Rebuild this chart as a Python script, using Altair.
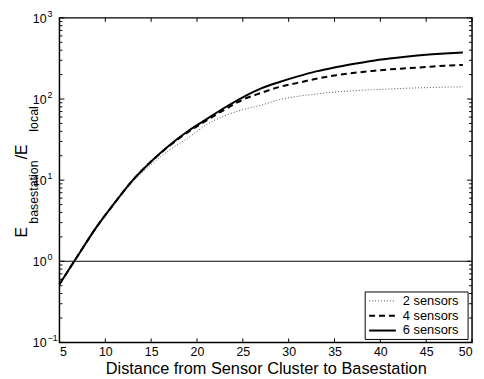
import altair as alt
import pandas as pd

# ---- data ----
distance = [5, 7, 9, 11, 13, 15, 17, 19, 21, 23, 25, 27, 29, 31, 33, 35, 37, 39, 41, 43, 45, 47, 49]
ratio_2 = [0.52, 1.17, 2.6, 5.15, 9.6, 15.5, 23.5, 33, 48, 62, 74, 84, 98, 108, 115, 122, 126, 130, 133, 136, 138, 140, 141]
ratio_4 = [0.52, 1.17, 2.6, 5.2, 10, 17, 26.5, 39, 54, 74, 98, 119, 141, 158, 178, 195, 209, 221, 232, 240, 248, 257, 263]
ratio_6 = [0.52, 1.17, 2.6, 5.2, 10, 17, 27, 40, 56, 78, 105, 135, 162, 190, 219, 245, 270, 295, 316, 335, 351, 363, 374]
series = ["2 sensors", "4 sensors", "6 sensors"]

x_ticks = [5, 10, 15, 20, 25, 30, 35, 40, 45, 50]
y_ticks = [0.1, 1, 10, 100, 1000]
y_exps = ["\u22121", "0", "1", "2", "3"]
y_minor = [m * d for d in [0.1, 1, 10, 100] for m in range(2, 10)]
ref_level = [1]

W, H = 417, 328

styles = {
    "2 sensors": dict(color="#555555", strokeWidth=1, strokeDash=[1, 2]),
    "4 sensors": dict(color="black", strokeWidth=2, strokeDash=[6, 4]),
    "6 sensors": dict(color="black", strokeWidth=2),
}

xs = alt.Scale(domain=[5, 50], nice=False, zero=False)
ys = alt.Scale(type="log", domain=[0.1, 1000], nice=False)

xaxis = alt.Axis(values=x_ticks, ticks=False, domain=False, grid=False,
                 labelFontSize=12.5, labelFont="Liberation Sans", labelColor="black",
                 labelPadding=3,
                 title="Distance from Sensor Cluster to Basestation",
                 titleFont="Liberation Sans", titleFontSize=16.5, titleFontWeight="normal",
                 titleColor="black", titlePadding=3)

layers = []

ref = alt.Chart(pd.DataFrame({"v": ref_level})).mark_rule(color="black", strokeWidth=1).encode(
    y=alt.Y("v:Q", scale=ys, axis=None), x=alt.value(0), x2=alt.value(W))
layers.append(ref)

for name, vals in zip(series, [ratio_2, ratio_4, ratio_6]):
    d = pd.DataFrame({"distance": distance, "ratio": vals})
    layers.append(alt.Chart(d).mark_line(interpolate="monotone", **styles[name]).encode(
        x=alt.X("distance:Q", scale=xs, axis=xaxis),
        y=alt.Y("ratio:Q", scale=ys, axis=None)))

xt = pd.DataFrame({"x": x_ticks})
layers.append(alt.Chart(xt).mark_rule(color="black", strokeWidth=1).encode(
    x=alt.X("x:Q", scale=xs, axis=xaxis), y=alt.value(H), y2=alt.value(H - 4)))
layers.append(alt.Chart(xt).mark_rule(color="black", strokeWidth=1).encode(
    x=alt.X("x:Q", scale=xs, axis=xaxis), y=alt.value(0), y2=alt.value(4)))

yt = pd.DataFrame({"y": y_ticks, "e": y_exps})
ym = pd.DataFrame({"y": y_minor})
for dfr, ln in [(yt, 5), (ym, 3)]:
    layers.append(alt.Chart(dfr).mark_rule(color="black", strokeWidth=1).encode(
        y=alt.Y("y:Q", scale=ys, axis=None), x=alt.value(0), x2=alt.value(ln)))
    layers.append(alt.Chart(dfr).mark_rule(color="black", strokeWidth=1).encode(
        y=alt.Y("y:Q", scale=ys, axis=None), x=alt.value(W), x2=alt.value(W - ln)))

layers.append(alt.Chart(yt).mark_text(align="right", baseline="middle", dy=1, fontSize=12.5,
                                      font="Liberation Sans", color="black").encode(
    y=alt.Y("y:Q", scale=ys, axis=None), x=alt.value(-13), text=alt.value("10")))
layers.append(alt.Chart(yt).mark_text(align="left", baseline="middle", dy=-4, fontSize=9,
                                      font="Liberation Sans", color="black").encode(
    y=alt.Y("y:Q", scale=ys, axis=None), x=alt.value(-12), text="e:N"))

# y-axis title with subscripts
for txt, xpos, ystart, size in [("E", -33, 222, 16), ("basestation", -22, 208, 12.5),
                                ("/E", -33, 143, 16), ("local", -22, 115, 12.5)]:
    layers.append(alt.Chart(pd.DataFrame({"t": [txt]})).mark_text(
        angle=270, align="left", baseline="alphabetic", fontSize=size,
        font="Liberation Sans", color="black").encode(
        x=alt.value(xpos), y=alt.value(ystart), text="t:N"))

# legend (box, line samples, labels)
layers.append(alt.Chart(pd.DataFrame({"a": [0]})).mark_rect(
    fill="white", stroke="black", strokeWidth=1).encode(
    x=alt.value(309), x2=alt.value(413), y=alt.value(277), y2=alt.value(325)))
for name, ry in zip(series, [286, 301, 316]):
    sub = pd.DataFrame({"series": [name]})
    layers.append(alt.Chart(sub).mark_rule(**styles[name]).encode(
        x=alt.value(313), x2=alt.value(340), y=alt.value(ry)))
    layers.append(alt.Chart(sub).mark_text(align="left", baseline="middle", fontSize=13,
                                           font="Liberation Sans", color="black").encode(
        x=alt.value(347), y=alt.value(ry), text="series:N"))

chart = alt.layer(*layers).properties(
    width=W, height=H,
    autosize=alt.AutoSizeParams(type="none"),
    padding={"left": 52, "top": 8, "right": 4, "bottom": 36},
).configure_view(stroke="black", strokeWidth=1.5)

chart.save("out.html", embed_options={"renderer": "svg", "actions": False})
